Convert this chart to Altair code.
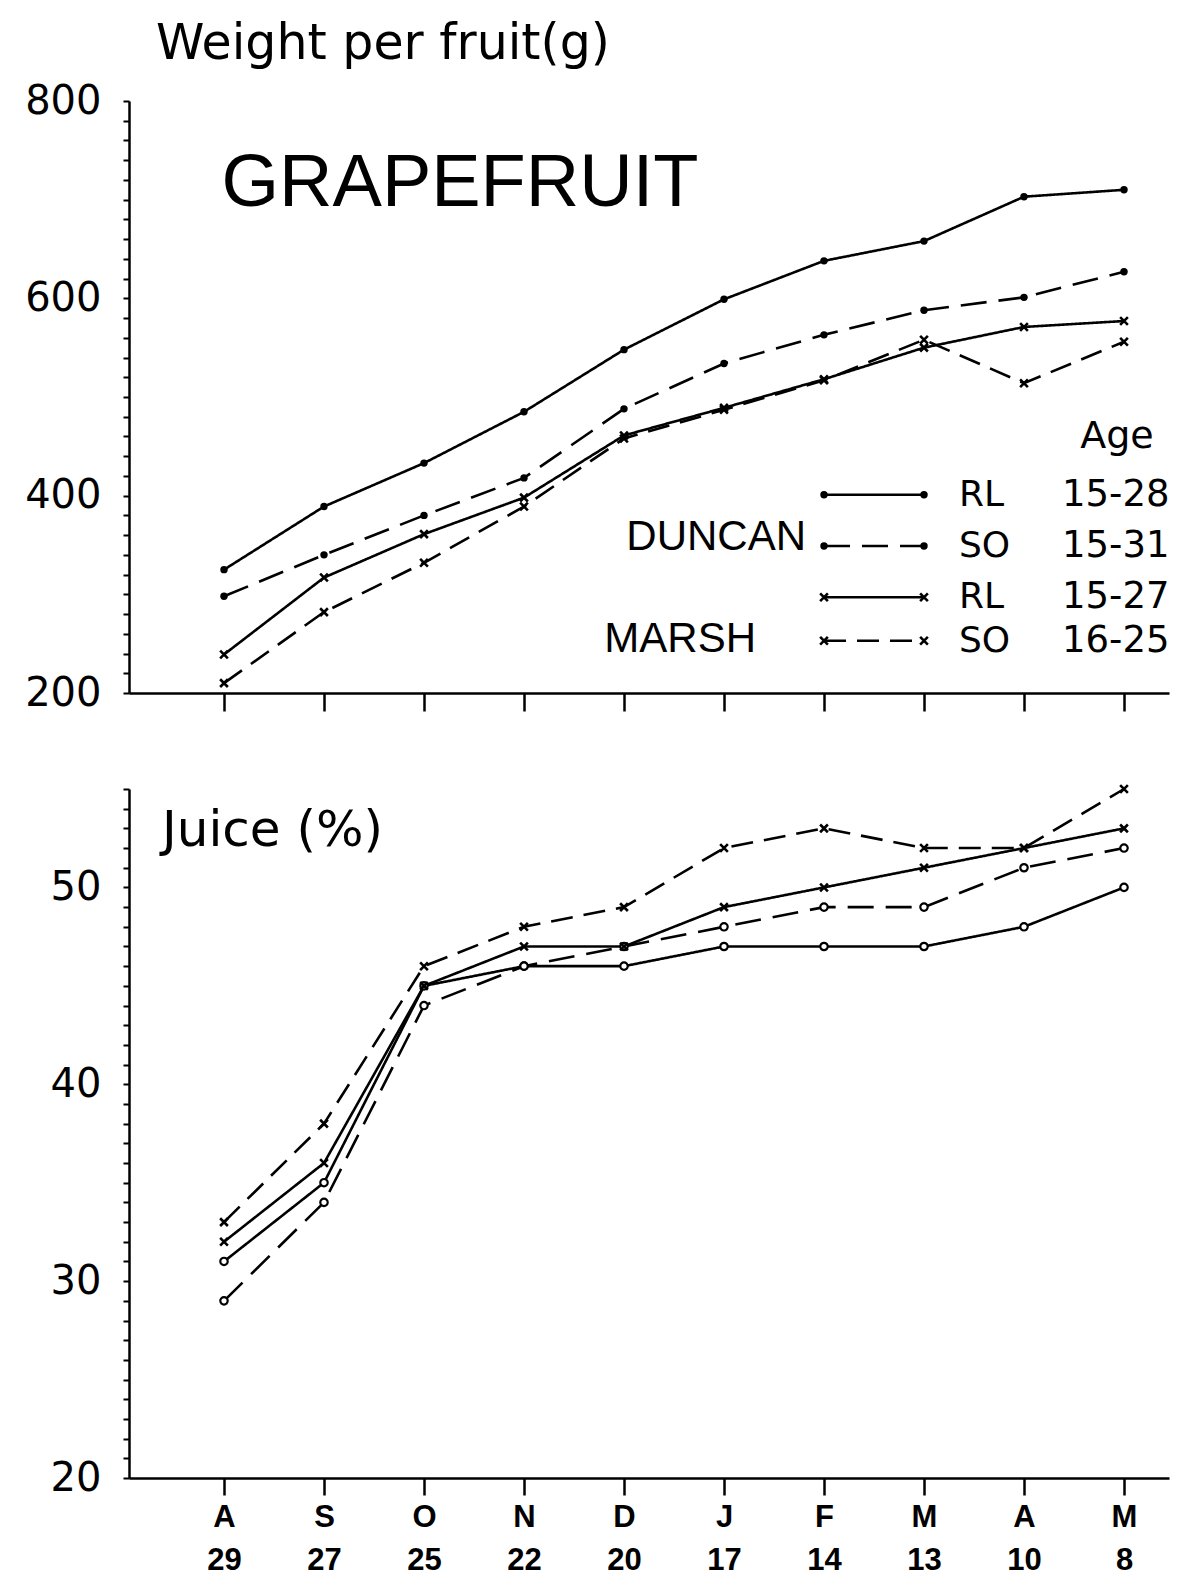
import json
import altair as alt
import pandas as pd

# ---------------- data ----------------
months = ["A", "S", "O", "N", "D", "J", "F", "M", "A", "M"]
days = ["29", "27", "25", "22", "20", "17", "14", "13", "10", "8"]
series = ["Duncan RL", "Duncan SO", "Marsh RL", "Marsh SO"]

weight_duncan_rl = [325, 389, 433, 485, 548, 599, 638, 658, 703, 710]
weight_duncan_so = [298, 340, 380, 418, 488, 534, 563, 588, 601, 627]
weight_marsh_rl = [239, 317, 361, 398, 461, 489, 518, 550, 571, 577]
weight_marsh_so = [210, 282, 332, 389, 458, 487, 517, 558, 514, 556]

juice_duncan_rl = [31, 35, 45, 46, 46, 47, 47, 47, 48, 50]
juice_duncan_so = [29, 34, 44, 46, 47, 48, 49, 49, 51, 52]
juice_marsh_rl = [32, 36, 45, 47, 47, 49, 50, 51, 52, 53]
juice_marsh_so = [33, 38, 46, 48, 49, 52, 53, 52, 52, 55]

legend_codes = ["RL", "SO", "RL", "SO"]
legend_ages = ["15-28", "15-31", "15-27", "16-25"]
variety_labels = ["DUNCAN", "MARSH"]

# ---------------- layout / style constants ----------------
FONT = "Liberation Sans"
WIDE = "DejaVu Sans"
X_DOMAIN = [-0.95, 9.45]
W = 1040
H_TOP = 592
H_BOT = 689
DASHES = [[1, 0], [26, 12], [1, 0], [22, 11]]
X_PATH = "M-1,-1L1,1M-1,1L1,-1"
LW = 2.6

LEG_Y = [401, 349, 297, 253]      # legend rows, in weight units
LEG_X0, LEG_X1 = 6.0, 7.0         # legend line sample, in x-index units
LEG_CODE_X, LEG_AGE_X = 7.35, 8.38
VAR_X = [5.82, 5.32]
VAR_Y = [358, 255]


def long_df(vals):
    rows = []
    for s, arr in zip(series, vals):
        for i, v in enumerate(arr):
            rows.append({"idx": i, "value": v, "series": s})
    return pd.DataFrame(rows)


wdf = long_df([weight_duncan_rl, weight_duncan_so, weight_marsh_rl, weight_marsh_so])
jdf = long_df([juice_duncan_rl, juice_duncan_so, juice_marsh_rl, juice_marsh_so])

dash_enc = alt.StrokeDash("series:N", scale=alt.Scale(domain=series, range=DASHES), legend=None)
duncan = alt.FieldOneOfPredicate(field="series", oneOf=series[:2])
marsh = alt.FieldOneOfPredicate(field="series", oneOf=series[2:])
xscale = alt.Scale(domain=X_DOMAIN, nice=False, zero=False)


def panel(df, ydom, yvals, label_step, xaxis, duncan_filled):
    xs = alt.X("idx:Q", scale=xscale, axis=xaxis, title=None)
    ys = alt.Y("value:Q", scale=alt.Scale(domain=ydom, nice=False, zero=False),
               axis=alt.Axis(values=yvals, tickSize=6, labelFontSize=40, labelPadding=22,
                             labelExpr=f"datum.value % {label_step} == 0 ? datum.label : ''",
                             labelFont=WIDE, labelColor="black", grid=False),
               title=None)
    base = alt.Chart(df)
    lines = base.mark_line(color="black", strokeWidth=LW).encode(
        x=xs, y=ys, detail="series:N", strokeDash=dash_enc)
    if duncan_filled:
        dpts = base.transform_filter(duncan).mark_point(
            shape="circle", filled=True, color="black", size=55, opacity=1
        ).encode(x=xs, y=ys)
    else:
        dpts = base.transform_filter(duncan).mark_point(
            shape="circle", filled=False, color="black", fill="white", fillOpacity=1,
            strokeWidth=2.2, size=55, opacity=1
        ).encode(x=xs, y=ys)
    mpts = base.transform_filter(marsh).mark_point(
        shape=X_PATH, filled=False, color="black", strokeWidth=2.6, size=60, opacity=1
    ).encode(x=xs, y=ys)
    return [lines, dpts, mpts], xs, ys


# ---------------- top panel ----------------
top_xaxis = alt.Axis(values=list(range(10)), labels=False, tickSize=18, tickWidth=2.5,
                     grid=False)
top_layers, xs_t, ys_t = panel(wdf, [200, 800], list(range(200, 801, 20)), 200,
                               top_xaxis, True)

leg_df = pd.DataFrame({
    "series": series, "code": legend_codes, "age": legend_ages, "value": LEG_Y,
    "idx": [LEG_X0] * 4, "idx2": [LEG_X1] * 4,
    "cx": [LEG_CODE_X] * 4, "ax": [LEG_AGE_X] * 4,
})
leg_pts = pd.concat([leg_df.assign(idx=LEG_X0), leg_df.assign(idx=LEG_X1)])

leg_rules = alt.Chart(leg_df).mark_rule(color="black", strokeWidth=LW).encode(
    x=xs_t, x2="idx2:Q", y=ys_t, strokeDash=dash_enc)
leg_dpts = alt.Chart(leg_pts).transform_filter(duncan).mark_point(
    shape="circle", filled=True, color="black", size=55, opacity=1).encode(x=xs_t, y=ys_t)
leg_mpts = alt.Chart(leg_pts).transform_filter(marsh).mark_point(
    shape=X_PATH, filled=False, color="black", strokeWidth=2.6, size=60, opacity=1
).encode(x=xs_t, y=ys_t)
leg_code = alt.Chart(leg_df).mark_text(
    align="left", baseline="middle", font=WIDE, fontSize=36, color="black"
).encode(x=alt.X("cx:Q", scale=xscale, title=None), y=ys_t, text="code:N")
leg_age = alt.Chart(leg_df).mark_text(
    align="left", baseline="middle", font=WIDE, fontSize=37, color="black"
).encode(x=alt.X("ax:Q", scale=xscale, title=None), y=ys_t, text="age:N")

var_df = pd.DataFrame({"label": variety_labels, "idx": VAR_X, "value": VAR_Y})
var_txt = alt.Chart(var_df).mark_text(
    align="right", baseline="middle", font=FONT, fontSize=42, color="black"
).encode(x=xs_t, y=ys_t, text="label:N")

misc_top = pd.DataFrame({"label": ["Age", "GRAPEFRUIT"], "idx": [8.93, 2.36],
                         "value": [459, 716]})
age_txt = alt.Chart(misc_top).transform_filter("datum.label == 'Age'").mark_text(
    align="center", baseline="middle", font=WIDE, fontSize=38, color="black"
).encode(x=xs_t, y=ys_t, text="label:N")
title_txt = alt.Chart(misc_top).transform_filter("datum.label == 'GRAPEFRUIT'").mark_text(
    align="center", baseline="middle", font=FONT, fontSize=74, color="black"
).encode(x=xs_t, y=ys_t, text="label:N")

ylabel_top = alt.Chart(pd.DataFrame({"t": ["Weight per fruit(g)"]})).mark_text(
    align="left", baseline="alphabetic", font=WIDE, fontSize=49, color="black"
).encode(x=alt.value(27), y=alt.value(-42), text="t:N")

top = alt.layer(*top_layers, leg_rules, leg_dpts, leg_mpts, leg_code, leg_age,
                var_txt, age_txt, title_txt, ylabel_top).properties(width=W, height=H_TOP)

# ---------------- bottom panel ----------------
bot_xaxis = alt.Axis(
    values=list(range(10)), tickSize=17, tickWidth=2.5, labelFontSize=31,
    labelFont=FONT, labelFontWeight="bold", labelColor="black", labelPadding=7,
    labelLineHeight=43, grid=False,
    labelExpr=f"[{json.dumps(months)}[datum.value], {json.dumps(days)}[datum.value]]",
)
bot_layers, xs_b, ys_b = panel(jdf, [20, 55], list(range(20, 56)), 10,
                               bot_xaxis, False)
ylabel_bot = alt.Chart(pd.DataFrame({"t": ["Juice (%)"]})).mark_text(
    align="left", baseline="alphabetic", font=WIDE, fontSize=50, color="black"
).encode(x=alt.value(33), y=alt.value(57), text="t:N")

bottom = alt.layer(*bot_layers, ylabel_bot).properties(width=W, height=H_BOT)

chart = alt.vconcat(top, bottom, spacing=65).properties(
    padding={"left": 16, "top": 11, "right": 0, "bottom": 0}
).configure(background="white").configure_view(stroke="transparent").configure_axis(
    domainColor="black", domainWidth=2.5, tickColor="black", tickWidth=2, grid=False
)

chart.save("out.html", embed_options={"renderer": "svg", "actions": False})
